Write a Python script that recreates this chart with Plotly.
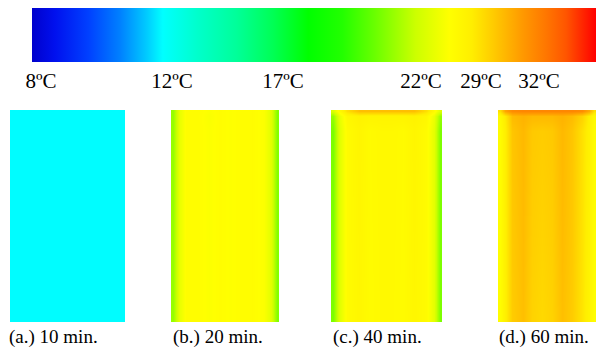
import numpy as np
import plotly.graph_objects as go

# ---- legend scale (temperature labels) ----
scale_labels = ["8ºC", "12ºC", "17ºC", "22ºC", "29ºC", "32ºC"]
scale_temps = [8, 12, 17, 22, 29, 32]

# ---- panels ----
panel_titles = ["(a.) 10 min.", "(b.) 20 min.", "(c.) 40 min.", "(d.) 60 min."]
col_pos = [0.02, 0.07, 0.14, 0.25, 0.35, 0.45, 0.55, 0.65, 0.75, 0.86, 0.93, 0.98]
row_pos = [0.995, 0.97, 0.9, 0.02]

temp_a = [
    [11.7] * 12,
    [11.7] * 12,
    [11.7] * 12,
    [11.7] * 12,
]
temp_b = [
    [21.0, 23.5, 25.6, 25.6, 25.1, 25.6, 25.2, 25.6, 25.7, 25.0, 23.0, 20.7],
    [21.0, 23.5, 25.6, 25.6, 24.9, 25.6, 25.2, 25.6, 25.7, 25.0, 23.0, 20.7],
    [21.0, 23.5, 25.6, 25.6, 25.1, 25.6, 25.2, 25.6, 25.7, 25.0, 23.0, 20.7],
    [21.0, 23.5, 25.6, 25.6, 25.1, 25.6, 25.2, 25.6, 25.7, 25.0, 23.0, 20.7],
]
temp_c = [
    [22.5, 26.0, 29.0, 30.0, 30.0, 30.0, 30.0, 30.0, 30.0, 29.0, 26.0, 22.5],
    [21.0, 23.5, 26.5, 27.3, 27.0, 27.0, 27.0, 27.0, 27.3, 26.5, 23.8, 21.0],
    [20.6, 22.8, 25.9, 26.8, 26.0, 26.3, 26.3, 26.0, 26.8, 25.9, 23.2, 20.6],
    [20.6, 22.8, 25.9, 26.6, 25.9, 26.2, 26.2, 25.9, 26.6, 25.9, 23.2, 20.6],
]
temp_d = [
    [29.0, 30.8, 31.6, 31.8, 31.8, 31.8, 31.8, 31.8, 31.8, 31.6, 30.6, 29.0],
    [26.2, 28.2, 30.1, 30.4, 30.2, 30.2, 30.2, 30.4, 30.1, 29.4, 27.8, 26.2],
    [25.8, 27.8, 29.8, 30.2, 29.7, 29.6, 29.7, 30.2, 29.8, 28.9, 27.3, 25.8],
    [25.6, 27.6, 29.6, 30.0, 29.4, 29.2, 29.4, 30.0, 29.6, 28.6, 27.0, 25.6],
]
panel_temps = [temp_a, temp_b, temp_c, temp_d]

# ---- layout constants (pixels) ----
W, H = 596, 356
BAR_X0, BAR_X1, BAR_Y0, BAR_Y1 = 32, 596, 8, 62
label_px = [41, 172, 283, 421, 481, 539]          # label centres along the bar
label_frac = [(p - BAR_X0) / (BAR_X1 - BAR_X0) for p in label_px]

panel_px = [(10, 125), (171, 279), (331, 442), (498, 596)]
PANEL_Y0, PANEL_Y1 = 110, 322
label_x_px = [7, 171, 331, 497]
LABEL_Y = 337

colorscale = [
    [0.0, "#0000cc"], [0.04, "#0010ee"], [0.10, "#0040ff"], [0.156, "#0080ff"],
    [0.204, "#00ccff"], [0.232, "#00ffff"], [0.293, "#00ffcc"], [0.363, "#00ff99"],
    [0.427, "#00ff55"], [0.49, "#00ff00"], [0.55, "#22ff00"], [0.605, "#66ff00"],
    [0.68, "#ccff00"], [0.74, "#ffff00"], [0.78, "#ffee00"], [0.817, "#ffcc00"],
    [0.87, "#ff9900"], [0.911, "#ff7700"], [0.947, "#ff5500"], [1.0, "#ff0000"],
]

def to_scale(t):
    return np.interp(np.asarray(t, dtype=float), scale_temps, label_frac)

fig = go.Figure()
py0 = 1 - PANEL_Y1 / H
py1 = 1 - PANEL_Y0 / H
for i, temps in enumerate(panel_temps):
    n = "" if i == 0 else str(i + 1)
    fig.add_trace(go.Heatmap(
        x=col_pos, y=row_pos, z=to_scale(temps),
        coloraxis="coloraxis", zsmooth="best",
        xaxis="x" + n, yaxis="y" + n, hoverinfo="skip",
    ))
    x0, x1 = panel_px[i]
    fig.layout["xaxis" + n] = dict(domain=[x0 / W, min(x1 / W, 1)], range=[0, 1],
                                  visible=False, fixedrange=True, anchor="y" + n)
    fig.layout["yaxis" + n] = dict(domain=[py0, py1], range=[0, 1],
                                  visible=False, fixedrange=True, anchor="x" + n)
    fig.add_annotation(text=panel_titles[i], xref="paper", yref="paper",
                       x=label_x_px[i] / W, y=1 - LABEL_Y / H,
                       xanchor="left", yanchor="middle", showarrow=False,
                       font=dict(family="Liberation Serif", size=19, color="black"))

fig.update_layout(
    width=W, height=H,
    margin=dict(l=0, r=0, t=0, b=0, autoexpand=False),
    paper_bgcolor="white", plot_bgcolor="white",
    showlegend=False,
    coloraxis=dict(
        colorscale=colorscale, cmin=0, cmax=1,
        colorbar=dict(
            orientation="h",
            xref="container", yref="container",
            x=BAR_X0 / W, xanchor="left",
            y=1 - BAR_Y0 / H, yanchor="top",
            len=BAR_X1 - BAR_X0, lenmode="pixels",
            thickness=BAR_Y1 - BAR_Y0, thicknessmode="pixels",
            xpad=0, ypad=0, outlinewidth=0,
            tickvals=label_frac, ticktext=scale_labels,
            ticks="outside", ticklen=1, tickcolor="rgba(0,0,0,0)",
            tickfont=dict(family="Liberation Serif", size=21, color="black"),
        ),
    ),
)

fig.write_html("out.html")
